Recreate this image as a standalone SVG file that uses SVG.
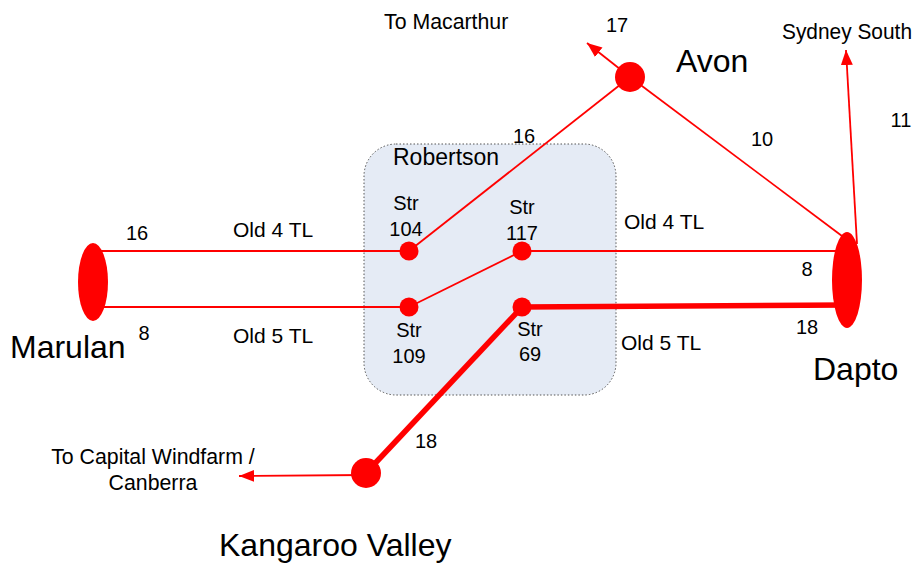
<svg xmlns="http://www.w3.org/2000/svg" width="915" height="563" viewBox="0 0 915 563">
<style>
text{font-family:"Liberation Sans",Arial,sans-serif;fill:#000}
.s{font-size:20px}
.o{font-size:21px}
.b{font-size:32px}
.m{font-size:21.3px}
.ln{stroke:#ff0000;stroke-width:1.8;fill:none}
.th{stroke:#ff0000;stroke-width:5.5;fill:none}
.dot{fill:#ff0000}
</style>
<defs>
<marker id="ah" markerUnits="userSpaceOnUse" markerWidth="16" markerHeight="14" refX="15" refY="6" orient="auto">
<path d="M0,0 L15,6 L0,12 Z" fill="#ff0000"/>
</marker>
</defs>
<rect x="0" y="0" width="915" height="563" fill="#ffffff"/>
<g id="robertson">
<rect x="364" y="144" width="252" height="251" rx="32" ry="32" fill="#e5ebf5" stroke="#555" stroke-width="1" stroke-dasharray="1.5,2"/>
<text x="393" y="165" style="font-size:23px">Robertson</text>
</g>
<g id="connectors">
<line class="ln" x1="93" y1="251" x2="409" y2="251"/>
<line class="ln" x1="93" y1="307" x2="409" y2="307"/>
<line class="ln" x1="409" y1="251" x2="630" y2="77"/>
<line class="ln" x1="409" y1="307" x2="522" y2="251"/>
<line class="ln" x1="522" y1="251" x2="847" y2="251"/>
<line class="th" x1="522" y1="307" x2="847" y2="305"/>
<line class="th" x1="522" y1="307" x2="366" y2="473"/>
<line class="ln" x1="630" y1="77" x2="842" y2="236"/>
<line class="ln" x1="630" y1="77" x2="587" y2="43" marker-end="url(#ah)"/>
<line class="ln" x1="857" y1="244" x2="846" y2="50" marker-end="url(#ah)"/>
<line class="ln" x1="366" y1="475" x2="239" y2="476" marker-end="url(#ah)"/>
</g>
<g id="marulan">
<ellipse cx="93" cy="282" rx="15" ry="39" class="dot"/>
<text x="10" y="358" class="b">Marulan</text>
</g>
<g id="dapto">
<ellipse cx="847" cy="280" rx="15" ry="48" class="dot"/>
<text x="813" y="380" class="b">Dapto</text>
</g>
<g id="avon">
<circle cx="630" cy="77" r="15" class="dot"/>
<text x="676" y="72" class="b">Avon</text>
</g>
<g id="kangaroo-valley">
<circle cx="366" cy="473" r="15" class="dot"/>
<text x="219" y="556" class="b">Kangaroo Valley</text>
</g>
<g id="str104">
<circle cx="409" cy="251" r="9.5" class="dot"/>
<text x="406" y="210" class="s" text-anchor="middle">Str</text>
<text x="406" y="236" class="s" text-anchor="middle">104</text>
</g>
<g id="str117">
<circle cx="522" cy="251" r="9.5" class="dot"/>
<text x="522" y="214" class="s" text-anchor="middle">Str</text>
<text x="522" y="240" class="s" text-anchor="middle">117</text>
</g>
<g id="str109">
<circle cx="409" cy="307" r="9.5" class="dot"/>
<text x="409" y="337" class="s" text-anchor="middle">Str</text>
<text x="409" y="363" class="s" text-anchor="middle">109</text>
</g>
<g id="str69">
<circle cx="522" cy="307" r="9.5" class="dot"/>
<text x="530" y="336" class="s" text-anchor="middle">Str</text>
<text x="530" y="361" class="s" text-anchor="middle">69</text>
</g>
<g id="labels">
<text x="384" y="29" class="m">To Macarthur</text>
<text x="617" y="32" class="s" text-anchor="middle">17</text>
<text x="782" y="39" class="m" textLength="130" lengthAdjust="spacingAndGlyphs">Sydney South</text>
<text x="901" y="127" class="s" text-anchor="middle">11</text>
<text x="762" y="146" class="s" text-anchor="middle">10</text>
<text x="524" y="143" class="s" text-anchor="middle">16</text>
<text x="137" y="240" class="s" text-anchor="middle">16</text>
<text x="233" y="237" class="o">Old 4 TL</text>
<text x="144" y="340" class="s" text-anchor="middle">8</text>
<text x="233" y="343" class="o">Old 5 TL</text>
<text x="624" y="229" class="o">Old 4 TL</text>
<text x="621" y="350" class="o">Old 5 TL</text>
<text x="807" y="276" class="s" text-anchor="middle">8</text>
<text x="807" y="334" class="s" text-anchor="middle">18</text>
<text x="426" y="448" class="s" text-anchor="middle">18</text>
<text x="153" y="464" class="m" text-anchor="middle">To Capital Windfarm /</text>
<text x="153" y="490" class="m" text-anchor="middle">Canberra</text>
</g>
</svg>
